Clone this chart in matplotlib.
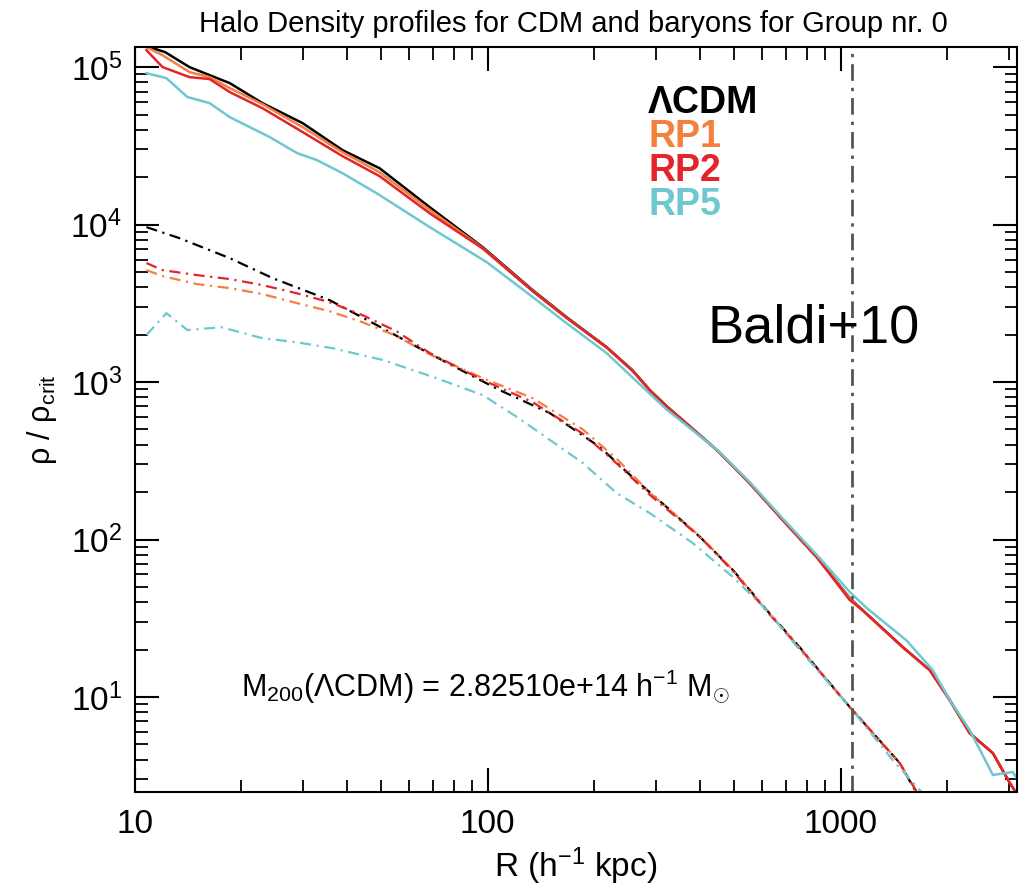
import numpy as np
import matplotlib.pyplot as plt
from matplotlib.ticker import FixedLocator, FuncFormatter, NullFormatter, LogLocator

plt.rcParams['font.family'] = ['Liberation Sans', 'DejaVu Sans']
plt.rcParams['mathtext.fontset'] = 'custom'
plt.rcParams['mathtext.rm'] = 'Liberation Sans'
plt.rcParams['mathtext.it'] = 'Liberation Sans:italic'
plt.rcParams['mathtext.bf'] = 'Liberation Sans:bold'

# -------------------------------------- #
# CDM profiles (solid)
# -------------------------------------- #
r_cdm_lcdm = [10.8, 12.2, 14.3, 18.6, 23.0, 29.9, 38.8, 49.4, 68.5, 96.8, 134, 167, 217, 257, 288,
              321, 446, 552, 685, 855, 1060, 1153, 1500, 1787, 2036, 2318, 2697, 3013, 3200]
rho_cdm_lcdm = [1.36e5, 1.245e5, 1.0e5, 7.91e4, 5.91e4, 4.41e4, 2.97e4, 2.28e4, 1.29e4, 7.19e3, 3.84e3,
                2.59e3, 1.67e3, 1.19e3, 889, 705, 370, 228, 133, 77.4, 42.5, 35.6, 20.7, 14.8, 9.57,
                5.9, 4.4, 2.84, 2.3]

r_cdm_rp = [10.8, 12.0, 14.3, 16.3, 18.6, 23.0, 29.9, 38.8, 49.4, 68.5, 96.8, 134, 167, 217, 257, 288,
            321, 446, 552, 685, 855, 1060, 1153, 1500, 1787, 2036, 2318, 2697, 3013, 3200]
rho_cdm_rp1 = [1.34e5, 1.19e5, 9.3e4, 8.64e4, 7.36e4, 5.82e4, 4.16e4, 2.88e4, 2.15e4, 1.24e4, 7.1e3,
               3.8e3, 2.57e3, 1.66e3, 1.18e3, 885, 700, 368, 227, 133, 77, 42.2, 35.4, 20.6, 14.8,
               9.5, 5.9, 4.4, 2.84, 2.3]
rho_cdm_rp2 = [1.28e5, 1.0e5, 8.64e4, 8.4e4, 6.94e4, 5.49e4, 3.87e4, 2.72e4, 2.03e4, 1.18e4, 7.05e3,
               3.78e3, 2.56e3, 1.66e3, 1.18e3, 884, 700, 370, 228, 133, 77.4, 41.3, 35.6, 20.7, 14.8,
               9.57, 5.9, 4.4, 2.84, 2.3]

r_cdm_rp5 = [10.8, 12.3, 14.1, 16.3, 18.6, 24.1, 28.8, 32.8, 38.8, 48.5, 68.5, 99.3, 134, 167, 217,
             321, 446, 552, 685, 855, 1060, 1185, 1538, 1823, 2036, 2318, 2697, 3070, 3200]
rho_cdm_rp5 = [9.16e4, 8.51e4, 6.46e4, 5.91e4, 4.81e4, 3.6e4, 2.85e4, 2.57e4, 2.12e4, 1.58e4, 9.64e3,
               5.78e3, 3.47e3, 2.37e3, 1.53e3, 670, 372, 232, 136, 80, 46.5, 36.7, 22.8, 14.8, 9.57,
               6.17, 3.2, 3.34, 2.9]

# -------------------------------------- #
# baryon profiles (dash-dot)
# -------------------------------------- #
r_bar_lcdm = [10.8, 13.4, 18.6, 24.6, 35.6, 48.5, 64.1, 78.0, 108, 150, 208, 257, 321, 399, 495,
              617, 765, 1060, 1469, 1640]
rho_bar_lcdm = [9.64e3, 8.2e3, 6.12e3, 4.57e3, 3.32e3, 2.30e3, 1.64e3, 1.30e3, 890, 635, 386, 249,
                161, 104, 64, 35.6, 20.7, 8.65, 3.81, 2.45]

r_bar_rp = [10.8, 12.0, 15.0, 18.6, 23.0, 28.7, 35.6, 44.2, 55.2, 68.5, 96.8, 134, 186, 232, 288,
            399, 495, 617, 765, 1060, 1469, 1650]
rho_bar_rp1 = [5.14e3, 4.71e3, 4.19e3, 3.95e3, 3.62e3, 3.18e3, 2.82e3, 2.40e3, 1.96e3, 1.50e3,
               1.06e3, 791, 500, 325, 198, 105, 64, 35.5, 20.6, 8.7, 3.82, 2.45]
rho_bar_rp2 = [5.7e3, 5.14e3, 4.78e3, 4.51e3, 4.13e3, 3.67e3, 3.22e3, 2.66e3, 2.10e3, 1.53e3,
               1.03e3, 746, 470, 304, 192, 104, 63, 35, 20.5, 8.6, 3.8, 2.45]

r_bar_rp5 = [10.8, 12.3, 14.1, 17.6, 23.0, 28.8, 36.4, 50.5, 69.8, 96.8, 121, 150, 186, 232, 288,
             381, 495, 617, 765, 1060, 1403, 1706]
rho_bar_rp5 = [1.99e3, 2.74e3, 2.14e3, 2.23e3, 1.90e3, 1.79e3, 1.64e3, 1.38e3, 1.08e3, 827, 600,
               429, 306, 197, 147, 95, 57.8, 35.6, 19.9, 8.65, 3.98, 2.45]

r200 = 1074
labels = ['ΛCDM', 'RP1', 'RP2', 'RP5']
colors = ['black', '#F2803F', '#E3242B', '#6FC7CF']

# -------------------------------------- #
# 画图
# -------------------------------------- #
fig = plt.figure(figsize=(10.28, 8.89), dpi=100)
ax = fig.add_axes([0.131, 0.109, 0.858, 0.838])
ax.set_xscale('log')
ax.set_yscale('log')

dashdot = (0, (5, 2.5, 1, 2.5))
cdm = [(r_cdm_lcdm, rho_cdm_lcdm), (r_cdm_rp, rho_cdm_rp1), (r_cdm_rp, rho_cdm_rp2), (r_cdm_rp5, rho_cdm_rp5)]
bar = [(r_bar_lcdm, rho_bar_lcdm), (r_bar_rp, rho_bar_rp1), (r_bar_rp, rho_bar_rp2), (r_bar_rp5, rho_bar_rp5)]
for (r, rho), c in zip(cdm, colors):
    ax.plot(r, rho, color=c, lw=1.8)
for (r, rho), c in zip(bar, colors):
    ax.plot(r, rho, color=c, lw=1.6, linestyle=dashdot)

ax.axvline(r200, color='#555555', lw=2.0, linestyle=(0, (6, 2.5, 1.2, 2.5)))

ax.set_xlim(10, 3150)
ax.set_ylim(2.49, 1.34e5)

ax.xaxis.set_major_locator(FixedLocator([10, 100, 1000]))
ax.xaxis.set_major_formatter(FuncFormatter(lambda v, p: f'{int(round(v))}'))
ax.xaxis.set_minor_locator(LogLocator(base=10, subs=np.arange(2, 10)))
ax.xaxis.set_minor_formatter(NullFormatter())
ax.yaxis.set_major_locator(FixedLocator([1e1, 1e2, 1e3, 1e4, 1e5]))
ax.yaxis.set_major_formatter(FuncFormatter(lambda v, p: rf'$10^{{{int(round(np.log10(v)))}}}$'))
ax.yaxis.set_minor_locator(LogLocator(base=10, subs=np.arange(2, 10)))
ax.yaxis.set_minor_formatter(NullFormatter())

ax.tick_params(which='both', direction='in', top=True, right=True)
ax.tick_params(which='major', length=17, width=1.5, labelsize=24)
ax.tick_params(axis='x', which='major', pad=12)
ax.tick_params(axis='y', which='major', pad=9)
ax.tick_params(which='minor', length=9, width=1.3)
for s in ax.spines.values():
    s.set_linewidth(1.5)

ax.set_xlabel('R (h$^{-1}$ kpc)', fontsize=24, labelpad=4)
ax.set_ylabel('ρ / ρ$_{\\rm crit}$', fontsize=22, labelpad=8)

fig.text(0.558, 0.964, 'Halo Density profiles for CDM and baryons for Group nr. 0',
         fontsize=21, ha='center', va='baseline')

# legend as coloured text
ys = [0.911, 0.866, 0.820, 0.774]
for lab, c, y in zip(labels, colors, ys):
    ax.text(0.582, y, lab, transform=ax.transAxes, color=c, fontsize=27,
            fontweight='bold', ha='left', va='baseline')

ax.text(0.121, 0.1275, 'M$_{200}$(ΛCDM) = 2.82510e+14 h$^{-1}$ M$_{\\odot}$',
        transform=ax.transAxes, fontsize=22, ha='left', va='baseline')

fig.text(0.688, 0.615, 'Baldi+10', fontsize=39, ha='left', va='baseline')

plt.savefig('out.png', dpi=100)
